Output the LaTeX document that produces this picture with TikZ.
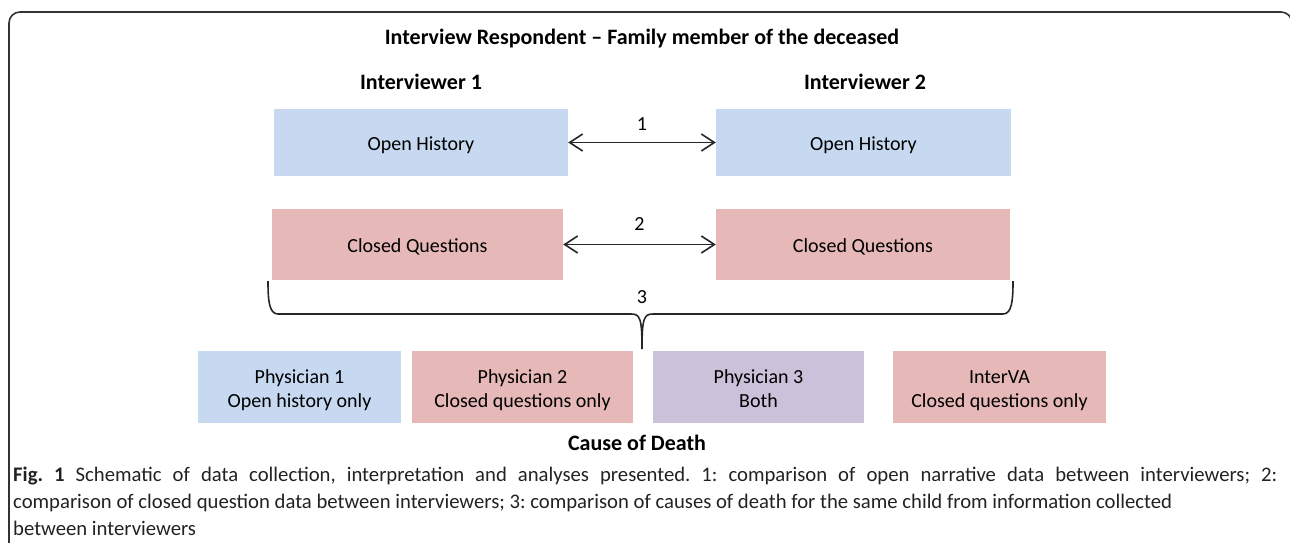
\documentclass[tikz,border=0pt]{standalone}
\usepackage{fontspec}
\setmainfont{Carlito}
\usetikzlibrary{arrows.meta}
\definecolor{bblue}{HTML}{C6D9F1}
\definecolor{bred}{HTML}{E6B9B8}
\definecolor{bpurple}{HTML}{CCC1DA}
\definecolor{frame}{HTML}{333333}
\definecolor{captxt}{HTML}{222222}
\newcommand\boxtext[1]{\raisebox{-3.5pt}[\height][\depth]{\begin{tabular}{@{}c@{}}#1\end{tabular}}}
\tikzset{
  box/.style={inner sep=0pt, align=center, font=\fontsize{20}{24}\selectfont, text=black},
  head/.style={inner sep=0pt, font=\fontsize{22}{26}\selectfont\bfseries},
  cmp/.style={line width=1.6pt, draw=black!85, {Straight Barb[length=13pt,width=17pt,line width=1.6pt]}-{Straight Barb[length=13pt,width=17pt,line width=1.6pt]}},
  num/.style={inner sep=0pt, font=\fontsize{20}{24}\selectfont},
}
\begin{document}
\frenchspacing
\begin{tikzpicture}[x=1pt,y=-1pt]
\useasboundingbox (0,0) rectangle (1290,542);
\clip (0,0) rectangle (1290,542);
% frame
\draw[frame, line width=1.6pt, rounded corners=11pt] (9,600) -- (9,12) -- (1292,12) -- (1292,600);
% titles
\node[head] (title) at (642,38.5) {Interview Respondent – Family member of the deceased};
\node[head] (iv1) at (421,82) {Interviewer 1};
\node[head] (iv2) at (865,82) {Interviewer 2};
% boxes
\node[box, fill=bblue, minimum width=294pt, minimum height=67pt] (oh1) at (421,142.5) {\boxtext{Open History}};
\node[box, fill=bblue, minimum width=295pt, minimum height=67pt] (oh2) at (863.5,142.5) {\boxtext{Open History}};
\node[box, fill=bred, minimum width=291pt, minimum height=71pt] (cq1) at (417.5,244.5) {\boxtext{Closed Questions}};
\node[box, fill=bred, minimum width=294pt, minimum height=71pt] (cq2) at (863,244.5) {\boxtext{Closed Questions}};
% arrows
\draw[cmp] (oh1.east) -- (oh2.west) node[num, midway, yshift=18pt] (n1) {1};
\draw[cmp] (cq1.east) -- (cq2.west) node[num, midway, yshift=20pt] (n2) {2};
% brace
\coordinate (bl) at (268,281);
\coordinate (br) at (1013,281);
\coordinate (btip) at (642,349);
\draw[line width=1.6pt, black!85] (bl) .. controls (268,300) and (269,314) .. (278,314) -- (631,314)
  .. controls (640,314) and (642,318) .. (btip)
  .. controls (642,318) and (644,314) .. (653,314) -- (1003,314)
  .. controls (1012,314) and (1013,300) .. (br);
\node[num] (n3) at (642,297) {3};
% physicians
\node[box, fill=bblue, minimum width=203pt, minimum height=72pt] (p1) at (299.5,387) {\boxtext{Physician 1\\Open history only}};
\node[box, fill=bred, minimum width=221pt, minimum height=72pt] (p2) at (522.5,387) {\boxtext{Physician 2\\Closed questions only}};
\node[box, fill=bpurple, minimum width=211pt, minimum height=72pt] (p3) at (758.5,387) {\boxtext{Physician 3\\Both}};
\node[box, fill=bred, minimum width=213pt, minimum height=72pt] (iva) at (999.5,387) {\boxtext{InterVA\\Closed questions only}};
\node[head] (cod) at (637,442.5) {Cause of Death};
% caption
\node[anchor=north west, inner sep=0pt, text width=1264pt, align=justify, text=captxt,
  font=\fontsize{20.7}{27}\selectfont] (cap) at (13,467)
  {\textbf{Fig.\ 1} Schematic of data collection, interpretation and analyses presented. 1: comparison of open narrative data between interviewers; 2:\linebreak comparison of closed question data between interviewers; 3: comparison of causes of death for the same child from information collected\newline between interviewers};
\end{tikzpicture}
\end{document}
